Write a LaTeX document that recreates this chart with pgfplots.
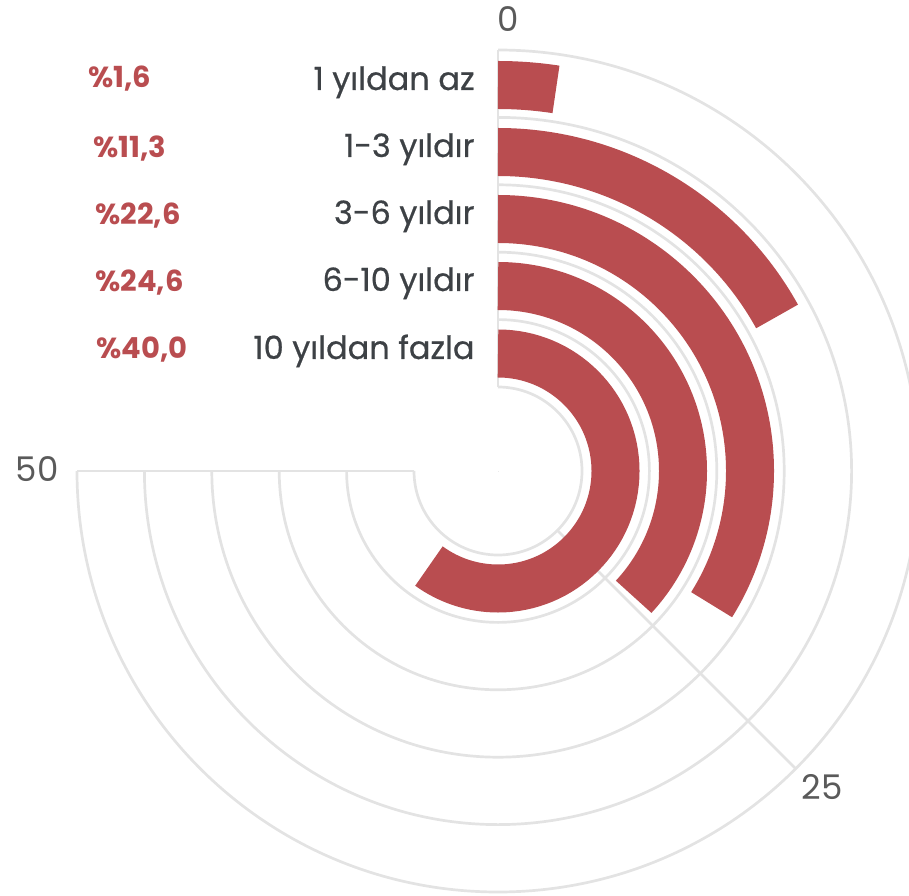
\documentclass[border=0pt]{standalone}
\usepackage{pgfplots}
\pgfplotsset{compat=1.18}
\usepackage{pgfplotstable}
\usepackage{fontspec}
\setmainfont{Poppins}
\newfontfamily\medfont{Poppins}[FakeBold=0.6]
\definecolor{barred}{HTML}{B94D50}
\definecolor{gridc}{HTML}{E3E3E3}
\definecolor{txt}{HTML}{3D4145}
\definecolor{tickc}{HTML}{5A5A5A}
% r = band centre radius (px), v = percentage; 50 % = 270 degrees
\pgfplotstableread{
r v
386 1.6
319 11.3
252 22.6
185 24.6
117.5 40.0
}\bars
\begin{document}
\begin{tikzpicture}
\useasboundingbox (0,0) rectangle (454.5pt,447.5pt);
\begin{axis}[at={(0,0)}, anchor=south west, x=0.5pt, y=0.5pt,
  xmin=-498, xmax=411, ymin=-424, ymax=471,
  hide axis, clip=false]
% grid arcs (270 degrees)
\pgfplotsinvokeforeach{84,151.4,218.8,286.2,353.6,421}{
  \draw[gridc, line width=1.35pt] (axis cs:0,#1) arc[start angle=90, end angle=-180, radius={#1*0.5pt}];
}
% spokes at 0, 25, 50
\draw[gridc, line width=1.35pt] (axis cs:0,84) -- (axis cs:0,421);
\draw[gridc, line width=1.35pt] (axis cs:-84,0) -- (axis cs:-421,0);
\draw[gridc, line width=1.35pt] (axis cs:59.4,-59.4) -- (axis cs:297.7,-297.7);
% bars
\addplot[scatter, only marks, mark=*, mark size=0pt, draw=none, fill=none,
  visualization depends on={\thisrow{r}\as\rr},
  visualization depends on={\thisrow{v}\as\vv},
  scatter/@pre marker code/.code={%
    \draw[barred, line width=24pt] (90:{\rr*0.5pt}) arc[start angle=90, delta angle={-5.4*\vv}, radius={\rr*0.5pt}];
  },
  scatter/@post marker code/.code={}]
  table[x expr=0, y expr=0] \bars;
% category labels
\tikzset{cat/.style={anchor=base east, inner sep=0pt, txt, font=\medfont\fontsize{16}{20}\selectfont},
  pct/.style={anchor=base west, inner sep=0pt, barred, font=\bfseries\fontsize{14.5}{17}\selectfont}}
\node[cat] at (axis cs:-23,381) {1 yıldan az};
\node[cat] at (axis cs:-23,314) {1-3 yıldır};
\node[cat] at (axis cs:-23,247) {3-6 yıldır};
\node[cat] at (axis cs:-23,180) {6-10 yıldır};
\node[cat] at (axis cs:-23,112) {10 yıldan fazla};
% percentage labels
\node[pct] at (axis cs:-410,383) {\%1,6};
\node[pct] at (axis cs:-405,313) {\%11,3};
\node[pct] at (axis cs:-403,246) {\%22,6};
\node[pct] at (axis cs:-403,179) {\%24,6};
\node[pct] at (axis cs:-402,112) {\%40,0};
% axis value labels
\node[tickc, font=\fontsize{17}{20}\selectfont] at (axis cs:10,452) {0};
\node[tickc, font=\fontsize{17}{20}\selectfont] at (axis cs:-461,2) {50};
\node[tickc, font=\fontsize{17}{20}\selectfont] at (axis cs:324,-316) {25};
\end{axis}
\end{tikzpicture}
\end{document}
